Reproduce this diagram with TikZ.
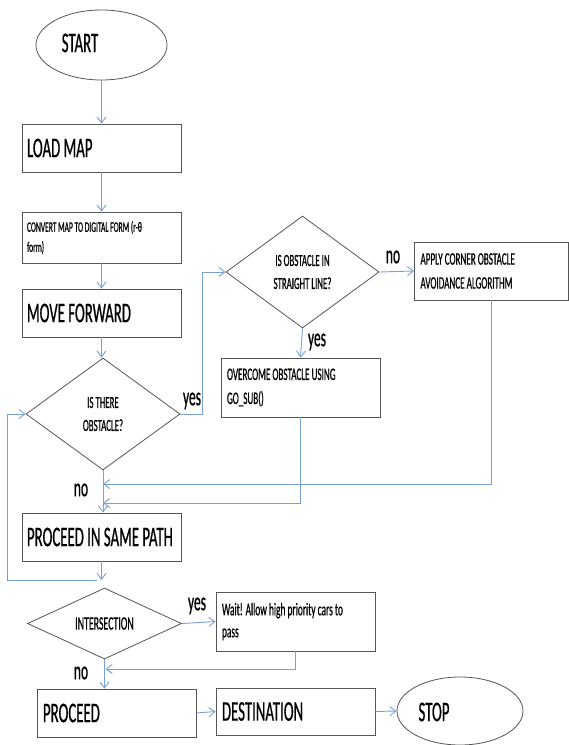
\documentclass[tikz,border=0pt]{standalone}
\usepackage{fontspec}
\setmainfont{Carlito}[FakeStretch=0.52, FakeBold=0.6]
\usetikzlibrary{shapes.geometric,arrows.meta}
\definecolor{conncol}{RGB}{120,160,215}
\definecolor{edgecol}{RGB}{85,85,85}
\newcommand\fsz[2]{\fontsize{#1}{#2}\selectfont}
\tikzset{
  x=1pt, y=-1pt,
  boxnode/.style={draw=edgecol, line width=0.8pt, rectangle, inner xsep=5pt, inner ysep=0pt,
     align=flush left, text width=#1},
  bigtext/.style={font=\fsz{28.5}{32}},
  midtext/.style={font=\fsz{17.5}{24}},
  dianode/.style={draw=edgecol, line width=0.8pt, diamond, inner sep=0pt, align=flush center, font=\fsz{17}{23}},
  ellnode/.style={draw=edgecol, line width=0.8pt, ellipse, inner sep=0pt},
  lbl/.style={font=\fsz{26}{30}, inner sep=0pt},
  conn/.style={draw=conncol, line width=0.9pt, -{Straight Barb[length=6pt,width=9pt]}},
}
\begin{document}
\begin{tikzpicture}
\useasboundingbox (0,0) rectangle (569,745);
% start / stop
\node[ellnode, minimum width=131pt, minimum height=70pt] (start) at (101.5,45) {};
\node[bigtext, inner sep=0pt] (starttxt) at (80,43) {START};
\node[ellnode, minimum width=126pt, minimum height=68pt] (stop) at (460,711) {};
\node[bigtext, inner sep=0pt] (stoptxt) at (434,712) {STOP};
% boxes
\node[boxnode=149pt, bigtext, minimum width=159pt, minimum height=48pt] (load) at (101.5,148) {LOAD MAP};
\node[boxnode=149pt, font=\fsz{14.5}{20}, minimum width=159pt, minimum height=51pt] (conv) at (101.5,237.5) {CONVERT MAP TO DIGITAL FORM (r-θ\\form)\\[-6pt]};
\node[boxnode=149pt, bigtext, minimum width=159pt, minimum height=48pt] (move) at (101.5,313) {MOVE FORWARD};
\node[boxnode=149pt, bigtext, minimum width=159pt, minimum height=48pt] (psp) at (101.5,537) {PROCEED IN SAME PATH};
\node[boxnode=147pt, bigtext, inner xsep=6pt, minimum width=159pt, minimum height=48pt] (proc) at (116.5,713) {PROCEED};
\node[boxnode=147pt, bigtext, inner xsep=6pt, minimum width=159pt, minimum height=47pt] (dest) at (295.5,711.5) {DESTINATION};
\node[boxnode=142pt, midtext, inner xsep=6pt, minimum width=154pt, minimum height=58pt] (apply) at (491.5,271) {APPLY CORNER OBSTACLE\\AVOIDANCE ALGORITHM};
\node[boxnode=147pt, midtext, inner xsep=6pt, minimum width=159pt, minimum height=59pt] (over) at (300.5,387.5) {OVERCOME OBSTACLE USING\\GO\_SUB()};
\node[boxnode=147pt, font=\fsz{18}{22}, inner xsep=6pt, minimum width=159pt, minimum height=59pt] (wait) at (295.5,621.5) {Wait! Allow high priority cars to\\pass};
% diamonds
\node[dianode, minimum width=154pt, minimum height=112pt] (d1) at (103,414) {IS THERE\\OBSTACLE?};
\node[dianode, minimum width=153pt, minimum height=112pt] (d2) at (302.5,272) {IS OBSTACLE IN\\STRAIGHT LINE?};
\node[dianode, font=\fsz{19}{22}, minimum width=154pt, minimum height=71pt] (d3) at (104.5,623.5) {INTERSECTION};
% labels
\node[lbl] (yes1) at (192,401) {yes};
\node[lbl] (no1) at (393,257) {no};
\node[lbl] (yes2) at (317,342) {yes};
\node[lbl] (no2) at (81,490) {no};
\node[lbl] (yes3) at (197,606) {yes};
\node[lbl] (no3) at (81,673) {no};
% junction coordinates
\coordinate (j1) at (103,484);
\coordinate (j2) at (103,503);
\coordinate (lp) at (101.5,580);
\coordinate (lq) at (97,580);
\coordinate (j3) at (105.5,669);
% connectors
\draw[conn] (start.south) -- (load.north);
\draw[conn] (load.south) -- (conv.north);
\draw[conn] (conv.south) -- (move.north);
\draw[conn] (move.south) -- (move.south |- d1.north);
\draw[conn] (d1.east) -- ++(22,0) |- (d2.west);
\draw[conn] (d2.east) -- (apply.west);
\draw[conn] (d2.south) -- (over.north);
\draw[conn] (apply.south) |- (j1);
\draw[conn] (over.south) |- (j2);
\draw[conn] (d1.south) -- (d1.south |- psp.north);
\draw[conn] (psp.south) -- (lp);
\draw[conn] (lq) -- ++(-90,0) |- (d1.west);
\draw[conn] (d3.east) -- (wait.west);
\draw[conn] (wait.south) |- (j3);
\draw[conn] (d3.south) -- (d3.south |- proc.north);
\draw[conn] (proc.east) -- (dest.west);
\draw[conn] (dest.east) -- (stop.west);
\end{tikzpicture}
\end{document}
